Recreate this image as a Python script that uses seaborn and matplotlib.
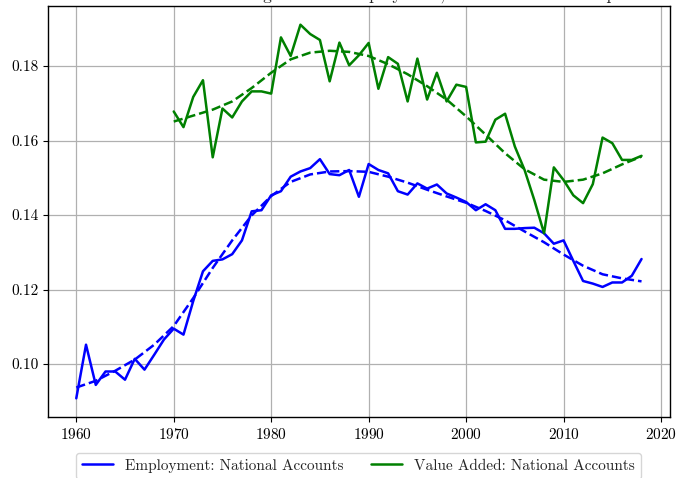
"""
Manufacturing shares: employment vs value added (national accounts)
"""

import matplotlib
matplotlib.use('Agg')
import matplotlib.pyplot as plt
import seaborn as sns
import pandas as pd

# Data
years_emp = list(range(1960, 2019))
emp_share = [0.0908, 0.1052, 0.0944, 0.0980, 0.0980, 0.0958, 0.1014, 0.0985, 0.1025, 0.1066,
             0.1095, 0.1079, 0.1169, 0.1249, 0.1277, 0.1281, 0.1295, 0.1332, 0.1410, 0.1413,
             0.1453, 0.1464, 0.1503, 0.1517, 0.1526, 0.1550, 0.1510, 0.1507, 0.1521, 0.1449,
             0.1537, 0.1521, 0.1512, 0.1464, 0.1455, 0.1485, 0.1471, 0.1482, 0.1458, 0.1447,
             0.1435, 0.1413, 0.1429, 0.1413, 0.1363, 0.1363, 0.1365, 0.1366, 0.1351, 0.1323,
             0.1332, 0.1277, 0.1223, 0.1216, 0.1207, 0.1219, 0.1219, 0.1237, 0.1282]

years_va = list(range(1970, 2019))
va_share = [0.1678, 0.1636, 0.1717, 0.1762, 0.1555, 0.1686, 0.1662, 0.1705, 0.1732, 0.1732,
            0.1726, 0.1877, 0.1827, 0.1911, 0.1886, 0.1870, 0.1759, 0.1863, 0.1802, 0.1829,
            0.1862, 0.1739, 0.1824, 0.1806, 0.1705, 0.1820, 0.1710, 0.1782, 0.1705, 0.1750,
            0.1744, 0.1595, 0.1597, 0.1656, 0.1672, 0.1584, 0.1521, 0.1440, 0.1351, 0.1528,
            0.1494, 0.1453, 0.1432, 0.1483, 0.1608, 0.1593, 0.1548, 0.1548, 0.1559]

# smoothed trends (dashed), read every second year
trend_years_emp = list(range(1960, 2019, 2))
emp_trend = [0.0937, 0.0955, 0.0982, 0.1012, 0.1052, 0.1102, 0.1177, 0.1258, 0.1332, 0.1399,
             0.1451, 0.1489, 0.1509, 0.1517, 0.1518, 0.1516, 0.1503, 0.1487, 0.1468, 0.1450,
             0.1433, 0.1411, 0.1386, 0.1356, 0.1327, 0.1294, 0.1264, 0.1241, 0.1230, 0.1222]

trend_years_va = list(range(1970, 2019, 2))
va_trend = [0.1651, 0.1667, 0.1683, 0.1705, 0.1741, 0.1782, 0.1818, 0.1836, 0.1841, 0.1838,
            0.1827, 0.1805, 0.1778, 0.1746, 0.1710, 0.1665, 0.1616, 0.1566, 0.1523, 0.1495,
            0.1489, 0.1495, 0.1512, 0.1536, 0.1557]

title_text = 'Manufacturing share of Employment, value added and output'
label_emp = 'Employment: National Accounts'
label_va = 'Value Added: National Accounts'

# Set style
sns.set_style('ticks', {'axes.grid': True, 'grid.color': '#b0b0b0',
                        'axes.edgecolor': 'black'})
plt.rcParams['font.family'] = ['cmr10', 'DejaVu Serif']
plt.rcParams['mathtext.fontset'] = 'cm'
plt.rcParams['axes.unicode_minus'] = False
plt.rcParams['axes.formatter.use_mathtext'] = True


def main():
    df_emp = pd.DataFrame({'Year': years_emp, 'Share': emp_share})
    df_va = pd.DataFrame({'Year': years_va, 'Share': va_share})
    df_emp_t = pd.DataFrame({'Year': trend_years_emp, 'Share': emp_trend})
    df_va_t = pd.DataFrame({'Year': trend_years_va, 'Share': va_trend})

    fig = plt.figure(figsize=(6.8, 4.78), dpi=100)
    ax = fig.add_axes([0.0706, 0.1276, 0.9144, 0.8598])

    sns.lineplot(data=df_emp, x='Year', y='Share', ax=ax, color='blue',
                 linewidth=1.8, label=label_emp)
    sns.lineplot(data=df_emp_t, x='Year', y='Share', ax=ax, color='blue',
                 linewidth=1.8, linestyle='--', legend=False)
    sns.lineplot(data=df_va, x='Year', y='Share', ax=ax, color='green',
                 linewidth=1.8, label=label_va)
    sns.lineplot(data=df_va_t, x='Year', y='Share', ax=ax, color='green',
                 linewidth=1.8, linestyle='--', legend=False)

    ax.set_xlabel('')
    ax.set_ylabel('')
    ax.margins(x=0.05, y=0.05)
    ax.set_xticks([1960, 1970, 1980, 1990, 2000, 2010, 2020])
    ax.set_yticks([0.10, 0.12, 0.14, 0.16, 0.18])
    ax.set_yticklabels(['0.10', '0.12', '0.14', '0.16', '0.18'])
    ax.tick_params(labelsize=11, length=3.5, width=0.8, colors='black')
    ax.grid(True, color='#b0b0b0', linewidth=0.9)
    for s in ax.spines.values():
        s.set_color('black')
        s.set_linewidth(1.0)

    # title sits mostly above the canvas, as in the original export
    fig.text(0.235, 0.9995, title_text, fontsize=12.5, ha='left', va='baseline')

    handles, labels = ax.get_legend_handles_labels()
    ax.get_legend().remove()
    fig.legend(handles, labels, loc='upper center', bbox_to_anchor=(0.527, 0.069),
               ncol=2, fontsize=11, frameon=True, edgecolor='0.8', fancybox=True,
               columnspacing=1.8, handlelength=2.0)

    fig.savefig('out.png', dpi=100)
    plt.close(fig)


if __name__ == "__main__":
    main()
